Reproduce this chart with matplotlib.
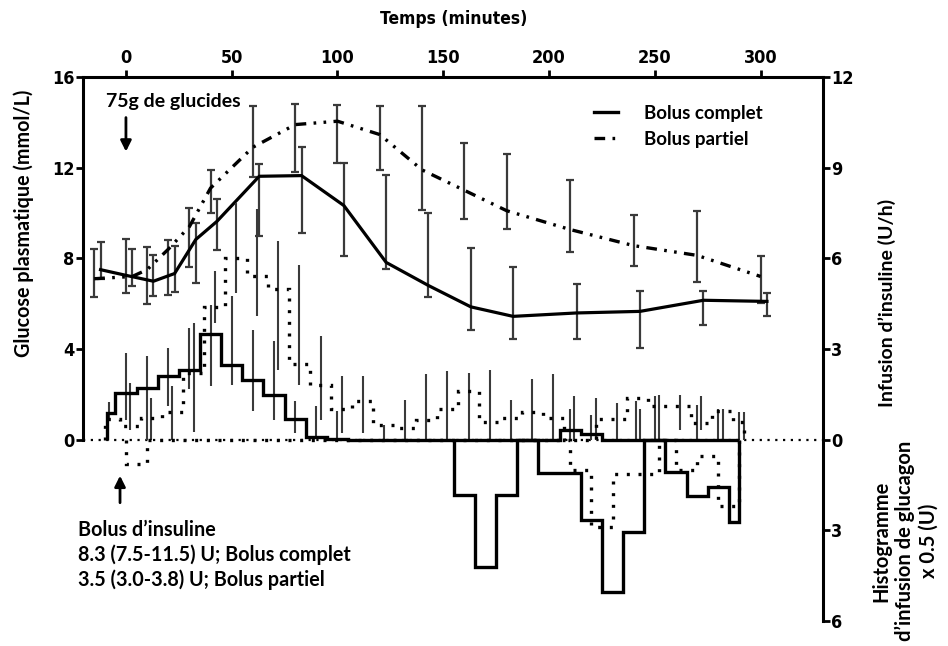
import matplotlib
matplotlib.use('Agg')
import matplotlib.pyplot as plt
from matplotlib.lines import Line2D
from matplotlib.ticker import FuncFormatter

# ---------------- data ----------------
# plasma glucose, full bolus (mmol/L): median and spread
t_full = [-12, 0, 13, 23, 33, 43, 63, 83, 103, 123, 143, 163, 183, 213, 243, 273, 303]
g_full = [7.50, 7.25, 6.99, 7.33, 8.83, 9.63, 11.62, 11.65, 10.33, 7.82, 6.80, 5.86, 5.44, 5.59, 5.66, 6.15, 6.10]
g_full_lo = [7.11, 6.47, 6.32, 6.52, 6.92, 8.38, 8.97, 9.12, 8.12, 7.53, 6.30, 4.82, 4.44, 4.46, 4.05, 5.04, 5.44]
g_full_hi = [8.72, 8.86, 8.16, 8.53, 9.56, 10.62, 12.14, 12.92, 12.21, 11.69, 10.00, 8.46, 7.60, 6.88, 6.54, 6.54, 6.47]

# plasma glucose, partial bolus
t_part = [-15, 3, 10, 20, 30, 40, 60, 80, 100, 120, 140, 160, 180, 210, 240, 270, 300]
g_part = [7.10, 7.20, 7.50, 8.40, 9.40, 11.10, 12.90, 13.90, 14.05, 13.46, 11.90, 11.00, 10.10, 9.27, 8.56, 8.13, 7.20]
g_part_lo = [6.30, 6.80, 6.00, 6.40, 7.60, 10.00, 11.60, 11.80, 12.20, 11.90, 10.15, 9.75, 9.30, 8.30, 7.65, 6.94, 6.03]
g_part_hi = [8.40, 8.40, 8.50, 8.80, 10.20, 11.90, 14.70, 14.80, 14.75, 14.70, 14.70, 13.10, 12.60, 11.45, 9.93, 10.10, 8.10]

# insulin infusion histogram (U/h), full bolus
ins_full_edges = [-9, -5, 5, 15, 25, 35, 45, 55, 65, 75, 85, 95, 105, 205, 215, 225, 290]
ins_full_vals = [0.88, 1.55, 1.71, 2.10, 2.32, 3.51, 2.48, 1.96, 1.47, 0.70, 0.09, 0.03, 0.0, 0.33, 0.20, 0.0]

# glucagon infusion histogram (x0.5 U, drawn negative), full bolus
gcg_full_edges = [155, 165, 175, 185, 195, 215, 225, 235, 245, 255, 265, 275, 285, 290]
gcg_full_vals = [-1.82, -4.20, -1.82, 0.0, -1.10, -2.67, -5.03, -3.07, 0.0, -1.08, -1.88, -1.57, -2.74]

# insulin infusion histogram (U/h), partial bolus
ins_part_edges = [-10, -3, 7, 17, 27, 37, 47, 57, 67, 77, 87, 97, 107, 117, 127, 137, 147, 157, 167, 177, 187, 197,
                  207, 222, 237, 247, 267, 277, 287, 292]
ins_part_vals = [0.70, 0.44, 0.72, 0.90, 2.20, 4.40, 6.00, 5.40, 5.00, 2.50, 1.80, 1.00, 1.27, 0.50, 0.40, 0.64,
                 1.00, 1.60, 0.60, 0.72, 0.90, 0.72, 0.0, 0.70, 1.38, 1.10, 0.55, 0.94, 0.60]

# glucagon infusion histogram, partial bolus
gcg_part_edges = [0, 10, 210, 220, 230, 252, 260, 270, 280, 290]
gcg_part_vals = [-0.80, 0.0, -1.00, -2.90, -1.15, 0.0, -1.00, -0.55, -2.20]

# spread bars of the insulin histograms (time, low, high)
ins_err_t = [-8, 0, 2, 10, 12, 20, 22, 30, 32, 40, 42, 50, 52, 60, 62, 70, 72, 80, 82, 90, 92, 100, 102, 112,
             122, 132, 142, 152, 162, 172, 182, 192, 202, 210, 212, 220, 222, 232, 241, 243, 250, 252, 262, 270,
             272, 280, 282, 290, 292]
ins_err_lo = [0.61, 0.66, 0.33, 0.0, 0.0, 1.10, 0.0, 1.66, 0.27, 1.77, 3.86, 1.82, 4.86, 0.94, 4.08, 0.64, 2.32, 0.22,
              1.82, 0.06, 0.66, 0.06, 0.22, 0.22, 0.0, 0.0, 0.0, 0.0, 0.0, 0.0, 0.0, 0.0, 0.0, 0.0, 0.0, 0.0, 0.0,
              0.0, 0.0, 0.0, 0.0, 0.0, 0.33, 0.0, 0.33, 0.0, 0.0, 0.0, 0.0]
ins_err_hi = [1.23, 2.87, 1.88, 2.76, 1.38, 3.04, 1.77, 3.70, 3.86, 4.47, 5.57, 4.74, 7.84, 3.64, 7.62, 3.25, 6.57, 1.27,
              5.79, 1.10, 3.42, 0.94, 2.10, 2.10, 0.50, 1.32, 2.17, 2.26, 2.20, 2.32, 1.30, 2.00, 2.17, 1.00, 1.43,
              0.80, 1.38, 1.21, 1.27, 1.00, 1.43, 1.49, 1.49, 1.16, 1.43, 1.00, 1.00, 0.90, 0.90]

x_ticks = [0, 50, 100, 150, 200, 250, 300]
left_ticks = [0, 4, 8, 12, 16]
right_ticks = [-6, -3, 0, 3, 6, 9, 12]
legend_labels = ['Bolus complet', 'Bolus partiel']

# ---------------- figure ----------------
TICKFONT = ['DejaVu Sans']
TXTFONT = ['Lato', 'DejaVu Sans']
W, H = 948, 646
fig = plt.figure(figsize=(W / 100, H / 100), dpi=100)
L, R, T, B = 83, 823, 77, 621
ax = fig.add_axes([L / W, 1 - B / H, (R - L) / W, (B - T) / H])
ax2 = ax.twinx()

ax.set_xlim(-20.3, 329.5)
ax.set_ylim(-8, 16)
ax2.set_ylim(-6, 12)

# glucose curves
ax.errorbar(t_full, g_full,
            yerr=[[g - l for g, l in zip(g_full, g_full_lo)], [h - g for g, h in zip(g_full, g_full_hi)]],
            fmt='none', ecolor='#3a3a3a', elinewidth=1.6, capsize=3, capthick=1.6, zorder=3)
ax.errorbar(t_part, g_part,
            yerr=[[g - l for g, l in zip(g_part, g_part_lo)], [h - g for g, h in zip(g_part, g_part_hi)]],
            fmt='none', ecolor='#3a3a3a', elinewidth=1.6, capsize=3, capthick=1.6, zorder=3)
ax.plot(t_full, g_full, color='black', lw=2.3, solid_joinstyle='miter', zorder=4)
dashdot = (0, (3.2, 2.2, 0.8, 2.2, 0.8, 2.2))
ax.plot(t_part, g_part, color='black', lw=2.4, linestyle=dashdot, zorder=4)

# zero reference (dotted)
ax2.axhline(0, color='black', lw=1.6, linestyle=(0, (1, 2.5)), zorder=1)

# insulin spread bars
ax2.vlines(ins_err_t, ins_err_lo, ins_err_hi, color='#3a3a3a', lw=1.5, zorder=2)

# histograms
ax2.stairs(ins_full_vals, ins_full_edges, baseline=0, color='black', lw=2.4, zorder=5)
ax2.stairs(gcg_full_vals, gcg_full_edges, baseline=0, color='black', lw=2.4, zorder=5)
dot = (0, (0.9, 2.6))
ax2.stairs(ins_part_vals, ins_part_edges, baseline=0, color='black', lw=2.4, linestyle=dot, zorder=5)
ax2.stairs(gcg_part_vals, gcg_part_edges, baseline=0, color='black', lw=2.4, linestyle=dot, zorder=5)

# axes styling
for a in (ax, ax2):
    a.spines['bottom'].set_visible(False)
    for s in ('top', 'left', 'right'):
        a.spines[s].set_linewidth(2.2)
ax.spines['right'].set_visible(False)
ax2.spines['left'].set_visible(False)
ax2.spines['top'].set_visible(False)
ax.spines['left'].set_bounds(0, 16)

ax.xaxis.tick_top()
ax.set_xticks(x_ticks)
ax.set_yticks(left_ticks)
ax2.set_yticks(right_ticks)
ax2.yaxis.set_major_formatter(FuncFormatter(lambda v, p: f'{abs(int(v))}'))
ax.tick_params(axis='x', direction='out', length=5, width=2, pad=2)
ax.tick_params(axis='y', direction='out', length=5, width=2, pad=1)
ax2.tick_params(axis='y', direction='out', length=5, width=2, pad=1)
for lab in ax.get_xticklabels() + ax.get_yticklabels() + ax2.get_yticklabels():
    lab.set_fontfamily(TICKFONT)
    lab.set_fontstretch('condensed')
    lab.set_fontweight('bold')
    lab.set_fontsize(13)

# titles / labels
fig.text(454 / W, 1 - 19 / H, 'Temps (minutes)', family=TICKFONT, stretch='condensed', weight='bold',
         fontsize=12.5, ha='center', va='center')
fig.text(24 / W, 1 - 223 / H, 'Glucose plasmatique (mmol/L)', family=TXTFONT, weight='bold', fontsize=14.2,
         rotation=90, ha='center', va='center')
fig.text(887 / W, 1 - 303 / H, 'Infusion d’insuline (U/h)', family=TXTFONT, weight='bold', fontsize=14,
         rotation=90, ha='center', va='center')
fig.text(905 / W, 1 - 541 / H, 'Histogramme\nd’infusion de glucagon\nx 0.5 (U)', family=TXTFONT, weight='bold',
         fontsize=14.5, rotation=90, ha='center', va='center', multialignment='center', linespacing=1.2)

# annotations
fig.text(106 / W, 1 - 102 / H, '75g de glucides', family=TXTFONT, weight='bold', fontsize=14,
         ha='left', va='center')
ax.annotate('', xy=(0, (440 - 152) / 22.66), xytext=(0, (440 - 118) / 22.66),
            arrowprops=dict(arrowstyle='-|>', color='black', lw=2, mutation_scale=16, shrinkA=0, shrinkB=0))
ax2.annotate('', xy=(-2.8, (440 - 476) / 30.2), xytext=(-2.8, (440 - 503) / 30.2),
             arrowprops=dict(arrowstyle='-|>', color='black', lw=2, mutation_scale=16, shrinkA=0, shrinkB=0))
fig.text(78 / W, 1 - 555 / H, 'Bolus d’insuline\n8.3 (7.5-11.5) U; Bolus complet\n3.5 (3.0-3.8) U; Bolus partiel',
         family=TXTFONT, weight='bold', fontsize=14.2, ha='left', va='center', linespacing=1.28)

# legend
handles = [Line2D([], [], color='black', lw=2.4),
           Line2D([], [], color='black', lw=2.4, linestyle=dashdot)]
leg = ax.legend(handles, legend_labels, loc='upper left', bbox_to_anchor=(594 / W, 1 - 105 / H),
                bbox_transform=fig.transFigure, frameon=False, borderpad=0, borderaxespad=0,
                handlelength=1.3, handletextpad=1.35, labelspacing=0.48,
                prop=dict(family=TXTFONT, weight='bold', size=13.5))

fig.savefig('out.png', dpi=100)
